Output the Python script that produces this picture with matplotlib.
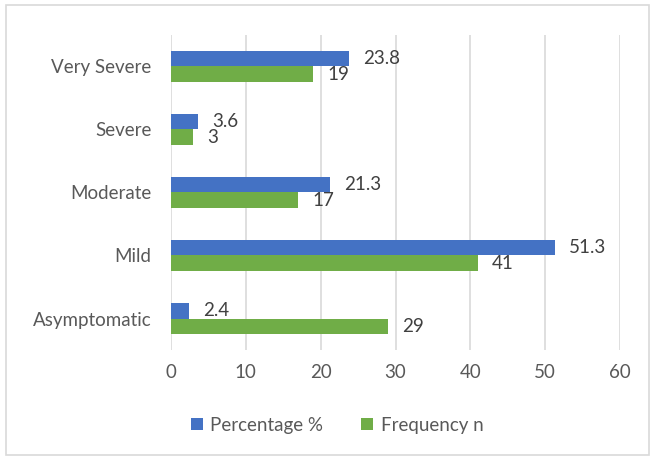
import matplotlib
matplotlib.use("Agg")
import matplotlib.pyplot as plt
import numpy as np
from matplotlib.patches import Rectangle

categories = ["Asymptomatic", "Mild", "Moderate", "Severe", "Very Severe"]
percentage = [2.4, 51.3, 21.3, 3.6, 23.8]
frequency = [29, 41, 17, 3, 19]
x_ticks = [0, 10, 20, 30, 40, 50, 60]

blue = "#4472C4"
green = "#70AD47"
text_col = "#404040"
tick_col = "#595959"
grid_col = "#D9D9D9"

plt.rcParams["font.family"] = ["Lato", "DejaVu Sans"]
fs = 13.5

fig = plt.figure(figsize=(6.52, 4.58), dpi=100)
ax = fig.add_axes([0.2623, 0.2358, 0.6887, 0.6878])

y = np.arange(len(categories))
h = 0.25
bars_p = ax.barh(y + h / 2, percentage, height=h, color=blue, label="Percentage %")
bars_f = ax.barh(y - h / 2, frequency, height=h, color=green, label="Frequency n")

for bars, vals in ((bars_p, percentage), (bars_f, frequency)):
    for b, v in zip(bars, vals):
        ax.annotate(f"{v:g}", (v, b.get_y() + b.get_height() / 2), xytext=(10, 0),
                    textcoords="offset points", va="center", ha="left",
                    fontsize=fs, color=text_col)

ax.set_xlim(0, 60)
ax.set_ylim(-0.5, len(categories) - 0.5)
ax.set_xticks(x_ticks)
ax.set_yticks(y)
ax.set_yticklabels(categories)
ax.tick_params(axis="both", length=0, labelsize=fs, labelcolor=tick_col)
ax.tick_params(axis="x", pad=10)
ax.tick_params(axis="y", pad=14)
ax.xaxis.grid(True, color=grid_col, linewidth=1.2)
ax.set_axisbelow(True)
for s in ax.spines.values():
    s.set_visible(False)

fig.legend(loc="center", bbox_to_anchor=(0.517, 0.072), ncol=2, frameon=False,
           fontsize=fs, labelcolor=tick_col, handlelength=0.65, handleheight=0.65,
           handletextpad=0.4, columnspacing=2.0)

fig.add_artist(Rectangle((6 / 652, 3 / 458), 643 / 652, 450 / 458,
                         transform=fig.transFigure, fill=False,
                         edgecolor=grid_col, linewidth=1.2))

fig.savefig("out.png", dpi=100, facecolor="white")
